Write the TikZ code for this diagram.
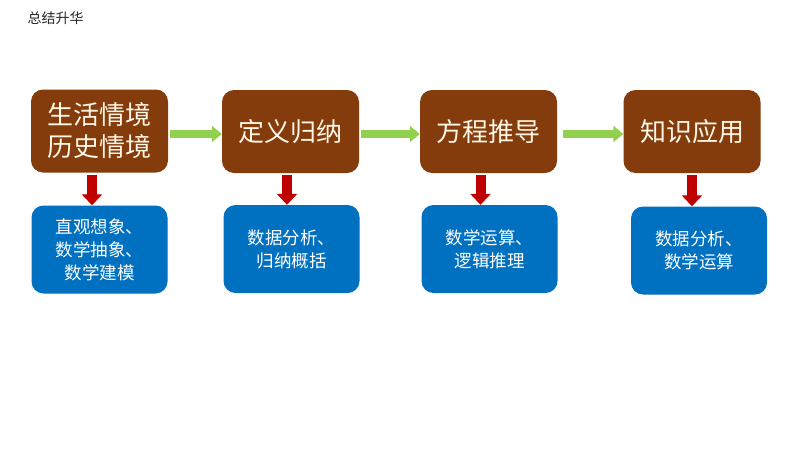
\documentclass[tikz,border=0pt]{standalone}
\usepackage{fontspec}
\setmainfont{Noto Sans CJK SC}
\usetikzlibrary{arrows.meta}
\definecolor{brownbox}{HTML}{843C0C}
\definecolor{bluebox}{HTML}{0070C0}
\definecolor{greenarr}{HTML}{92D050}
\definecolor{redarr}{HTML}{C00000}
\definecolor{creamtext}{HTML}{FFF6E6}
\tikzset{
  topbox/.style={fill=brownbox, rounded corners=12pt, minimum width=137pt, minimum height=83pt,
    text=creamtext, font=\fontsize{26}{32}\selectfont, align=center, inner sep=0pt},
  botbox/.style={fill=bluebox, rounded corners=12pt, minimum width=136pt, minimum height=88pt,
    text=white, font=\fontsize{17.5}{23}\selectfont, align=center, inner sep=0pt},
  greenlink/.style={draw=greenarr, line width=8pt, -{Triangle[length=10pt,width=16pt]}},
  redlink/.style={draw=redarr, line width=10pt, -{Triangle[length=11pt,width=20pt]}},
}
\begin{document}
\begin{tikzpicture}[x=1pt,y=-1pt]
\useasboundingbox[fill=white] (0,0) rectangle (800,450);
\node[anchor=west, text=black!85, font=\fontsize{14}{16}\selectfont] (title) at (24,18) {总结升华};

\node[topbox] (t1) at (99.5,131) {生活情境\\历史情境};
\node[topbox] (t2) at (290.5,131.5) {定义归纳};
\node[topbox] (t3) at (488.5,131.5) {方程推导};
\node[topbox] (t4) at (692,131.5) {知识应用};

\node[botbox] (s1) at (99.5,249.5) {直观想象、\\数学抽象、\\数学建模};
\node[botbox] (s2) at (291.5,249) {数据分析、\\归纳概括};
\node[botbox] (s3) at (489.5,249) {数学运算、\\逻辑推理};
\node[botbox] (s4) at (699,250.5) {数据分析、\\数学运算};

\draw[greenlink, shorten <=2pt] (t1.east |- 0,134) -- (t2.west |- 0,134);
\draw[greenlink, shorten <=2pt] (t2.east |- 0,134) -- (t3.west |- 0,134);
\draw[greenlink, shorten <=6pt] (t3.east |- 0,134) -- (t4.west |- 0,134);

\draw[redlink] ([xshift=-7.5pt, yshift=-2pt]t1.south) -- ([xshift=-7.5pt]t1.south |- s1.north);
\draw[redlink] ([xshift=-3.5pt, yshift=-2pt]t2.south) -- ([xshift=-3.5pt]t2.south |- s2.north);
\draw[redlink] ([xshift=-8pt, yshift=-2pt]t3.south) -- ([xshift=-8pt]t3.south |- s3.north);
\draw[redlink] ([xshift=0pt, yshift=-2pt]t4.south) -- ([xshift=0pt]t4.south |- s4.north);
\end{tikzpicture}
\end{document}
